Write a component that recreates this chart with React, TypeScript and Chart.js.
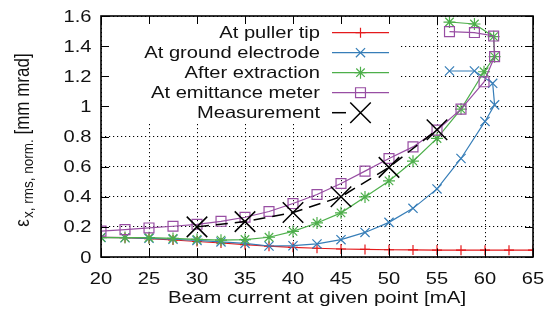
import { useEffect, useRef } from 'react';
import { Chart, registerables } from 'chart.js';

Chart.register(...registerables);

// ---- data ----
const xTicks = [20, 25, 30, 35, 40, 45, 50, 55, 60, 65];
const yTicks = [0, 0.2, 0.4, 0.6, 0.8, 1, 1.2, 1.4, 1.6];

const pullerX = [20, 22.5, 25, 27.5, 30, 32.5, 35, 37.5, 40, 42.5, 45, 47.5, 50, 52.5, 55, 57.5, 60, 62.5, 65];
const pullerY = [0.13, 0.128, 0.122, 0.113, 0.103, 0.093, 0.082, 0.072, 0.064, 0.058, 0.053, 0.05, 0.048, 0.047, 0.046, 0.045, 0.045, 0.045, 0.045];

const groundX = [20, 22.5, 25, 27.5, 30, 32.5, 35, 37.5, 40, 42.5, 45, 47.5, 50, 52.5, 55, 57.5, 60, 61, 60.8, 58.9, 56.3];
const groundY = [0.13, 0.128, 0.124, 0.118, 0.11, 0.1, 0.09, 0.073, 0.075, 0.087, 0.115, 0.163, 0.23, 0.323, 0.452, 0.654, 0.9, 1.01, 1.153, 1.235, 1.235];

const extractionX = [20, 22.5, 25, 27.5, 30, 32.5, 35, 37.5, 40, 42.5, 45, 47.5, 50, 52.5, 55, 57.5, 59.9, 61, 60.9, 58.9, 56.3];
const extractionY = [0.129, 0.129, 0.128, 0.123, 0.117, 0.112, 0.116, 0.131, 0.17, 0.226, 0.293, 0.399, 0.505, 0.636, 0.787, 0.982, 1.23, 1.33, 1.463, 1.547, 1.56];

const emittanceX = [20, 22.5, 25, 27.5, 30, 32.5, 35, 37.5, 40, 42.5, 45, 47.5, 50, 52.5, 55, 57.5, 59.9, 61, 60.9, 58.9, 56.3];
const emittanceY = [0.172, 0.182, 0.193, 0.204, 0.217, 0.237, 0.264, 0.302, 0.355, 0.415, 0.488, 0.57, 0.654, 0.731, 0.842, 0.982, 1.163, 1.33, 1.467, 1.49, 1.496];

const measX = [30, 35, 40, 45, 50, 55];
const measY = [0.2, 0.235, 0.295, 0.4, 0.595, 0.845];

const seriesNames = ['At puller tip', 'At ground electrode', 'After extraction', 'At emittance meter', 'Measurement'];
const seriesColors = ['#e41a1c', '#377eb8', '#4daf4a', '#984ea3', '#000000'];

const xTitle = 'Beam current at given point [mA]';
const yTitleMain = 'ε';
const yTitleSub = 'x, rms, norm.';
const yTitleUnit = ' [mm mrad]';

const FAMILY = '"Liberation Sans", Arial, Helvetica, sans-serif';
const SX = 1.22;
const TEXT = '#111';

function pairs(xs: number[], ys: number[]) {
  return xs.map((x, i) => ({ x, y: ys[i] }));
}

function sText(ctx: CanvasRenderingContext2D, text: string, x: number, y: number, align: CanvasTextAlign, baseline: CanvasTextBaseline, size: number) {
  ctx.save();
  ctx.translate(x, y);
  ctx.scale(SX, 1);
  ctx.font = `${size}px ${FAMILY}`;
  ctx.fillStyle = TEXT;
  ctx.textAlign = align;
  ctx.textBaseline = baseline;
  ctx.fillText(text, 0, 0);
  ctx.restore();
}

function marker(ctx: CanvasRenderingContext2D, style: string, x: number, y: number, r: number, color: string, lw: number) {
  ctx.save();
  ctx.strokeStyle = color;
  ctx.lineWidth = lw;
  ctx.setLineDash([]);
  ctx.beginPath();
  if (style === 'cross' || style === 'star') {
    ctx.moveTo(x - r, y); ctx.lineTo(x + r, y);
    ctx.moveTo(x, y - r); ctx.lineTo(x, y + r);
  }
  if (style === 'crossRot' || style === 'star') {
    const d = r * Math.SQRT1_2;
    ctx.moveTo(x - d, y - d); ctx.lineTo(x + d, y + d);
    ctx.moveTo(x - d, y + d); ctx.lineTo(x + d, y - d);
  }
  if (style === 'rect') {
    const d = r * Math.SQRT1_2;
    ctx.rect(x - d, y - d, 2 * d, 2 * d);
  }
  ctx.stroke();
  ctx.restore();
}

const decorPlugin = {
  id: 'decor',
  beforeDatasetsDraw(chart: any) {
    const { ctx, chartArea } = chart;
    ctx.save();
    ctx.fillStyle = '#fff';
    ctx.fillRect(chartArea.left + 1, chartArea.top + 1, 398 - chartArea.left, 122 - chartArea.top);
    ctx.restore();
  },
  afterDraw(chart: any) {
    const { ctx, chartArea } = chart;
    const xs = chart.scales.x;
    const ys = chart.scales.y;
    const { left, right, top, bottom } = chartArea;
    ctx.save();
    // inward ticks
    ctx.strokeStyle = '#000';
    ctx.lineWidth = 1;
    ctx.beginPath();
    xTicks.forEach((v) => {
      const px = Math.round(xs.getPixelForValue(v)) + 0.5;
      ctx.moveTo(px, bottom); ctx.lineTo(px, bottom - 8);
      ctx.moveTo(px, top); ctx.lineTo(px, top + 8);
    });
    yTicks.forEach((v) => {
      const py = Math.round(ys.getPixelForValue(v)) + 0.5;
      ctx.moveTo(left, py); ctx.lineTo(left + 8, py);
      ctx.moveTo(right, py); ctx.lineTo(right - 8, py);
    });
    ctx.stroke();
    // frame
    ctx.lineWidth = 1.6;
    ctx.strokeRect(left, top, right - left, bottom - top);
    ctx.restore();

    // tick labels
    xTicks.forEach((v) => {
      sText(ctx, String(v), xs.getPixelForValue(v), 284, 'center', 'alphabetic', 16.5);
    });
    yTicks.forEach((v) => {
      sText(ctx, String(Math.round(v * 10) / 10), 91.5, ys.getPixelForValue(v) + 1, 'right', 'middle', 16.5);
    });

    // x title
    sText(ctx, xTitle, (left + right) / 2, 303, 'center', 'alphabetic', 16.8);

    // y title (rotated, with subscript)
    ctx.save();
    const fMain = `17px ${FAMILY}`;
    const fSub = `13.5px ${FAMILY}`;
    ctx.font = fMain;
    const w1 = ctx.measureText(yTitleMain).width;
    const w3 = ctx.measureText(yTitleUnit).width;
    ctx.font = fSub;
    const w2 = ctx.measureText(yTitleSub).width;
    const total = w1 + 1 + w2 + w3;
    ctx.translate(28.5, 140);
    ctx.rotate(-Math.PI / 2);
    ctx.scale(1, 1.15);
    ctx.fillStyle = TEXT;
    ctx.textBaseline = 'alphabetic';
    ctx.textAlign = 'left';
    let cx = -total / 2;
    ctx.font = fMain;
    ctx.fillText(yTitleMain, cx, 0);
    cx += w1 + 1;
    ctx.font = fSub;
    ctx.fillText(yTitleSub, cx, 4);
    cx += w2;
    ctx.font = fMain;
    ctx.fillText(yTitleUnit, cx, 0);
    ctx.restore();

    // legend
    const rows = [32.7, 52.7, 72.7, 92.7, 112.7];
    const styles = ['cross', 'crossRot', 'star', 'rect', 'crossRot'];
    const radii = [5, 6.5, 6, 7, 14.5];
    rows.forEach((ry, i) => {
      sText(ctx, seriesNames[i], 320, ry + 1, 'right', 'middle', 16.5);
      ctx.save();
      ctx.strokeStyle = seriesColors[i];
      ctx.lineWidth = i === 4 ? 1.5 : 1.2;
      ctx.beginPath();
      if (i === 4) {
        ctx.moveTo(332, ry); ctx.lineTo(346, ry);
      } else {
        ctx.moveTo(332, ry); ctx.lineTo(389, ry);
      }
      ctx.stroke();
      ctx.restore();
      marker(ctx, styles[i], 360.5, ry, radii[i], seriesColors[i], i === 4 ? 1.5 : 1.2);
    });
  },
};

export default function App() {
  const ref = useRef<HTMLCanvasElement | null>(null);
  useEffect(() => {
    document.body.style.margin = '0';
    const canvas = ref.current;
    if (!canvas) return;
    const mk = (i: number, data: any[], style: string, r: number, order: number, extra: any = {}) => ({
      label: seriesNames[i],
      data,
      showLine: true,
      borderColor: seriesColors[i],
      backgroundColor: 'transparent',
      borderWidth: 1.2,
      pointStyle: style,
      pointRadius: r,
      pointBorderColor: seriesColors[i],
      pointBackgroundColor: 'transparent',
      pointBorderWidth: 1.2,
      tension: 0,
      order,
      ...extra,
    });
    const chart = new Chart(canvas, {
      type: 'scatter',
      data: {
        datasets: [
          mk(0, pairs(pullerX, pullerY), 'cross', 5, 5),
          mk(1, pairs(groundX, groundY), 'crossRot', 6.5, 4),
          mk(2, pairs(extractionX, extractionY), 'star', 6, 3),
          mk(3, pairs(emittanceX, emittanceY), 'rect', 7, 2),
          mk(4, pairs(measX, measY), 'crossRot', 14.5, 1, { borderWidth: 1.5, pointBorderWidth: 1.5, borderDash: [12, 7] }),
        ],
      },
      options: {
        responsive: false,
        animation: false,
        events: [],
        layout: { padding: { top: 16, right: 14, left: 0, bottom: 0 } },
        plugins: { legend: { display: false }, tooltip: { enabled: false } },
        scales: {
          x: {
            type: 'linear',
            min: 20,
            max: 65,
            afterFit: (s: any) => { s.height = 64; },
            afterBuildTicks: (s: any) => { s.ticks = xTicks.map((v) => ({ value: v })); },
            ticks: { display: false, stepSize: 5 },
            grid: { color: '#000', lineWidth: 1, drawTicks: false },
            border: { display: false, dash: [1.2, 2.8] },
          },
          y: {
            type: 'linear',
            min: 0,
            max: 1.6,
            afterFit: (s: any) => { s.width = 101; },
            afterBuildTicks: (s: any) => { s.ticks = yTicks.map((v) => ({ value: v })); },
            ticks: { display: false, stepSize: 0.2 },
            grid: { color: '#000', lineWidth: 1, drawTicks: false },
            border: { display: false, dash: [1.2, 2.8] },
          },
        },
      },
      plugins: [decorPlugin],
    } as any);
    return () => chart.destroy();
  }, []);
  return (
    <div style={{ width: 549, height: 321 }}>
      <canvas ref={ref} width={549} height={321} style={{ display: 'block' }} />
    </div>
  );
}
